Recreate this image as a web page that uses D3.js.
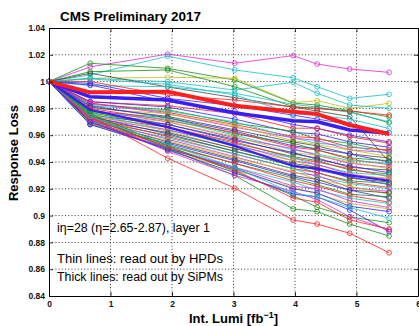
<!DOCTYPE html>
<html><head><meta charset="utf-8">
<script src="https://cdn.jsdelivr.net/npm/d3@7"></script>
<style>body{margin:0;background:#fff}svg{display:block;font-family:"Liberation Sans",Arial,Helvetica,sans-serif}</style>
</head><body><svg id="c" width="419" height="326"></svg>
<script>
// ---- data ----
const lumi = [0, 0.67, 1.93, 3.02, 3.97, 4.36, 4.89, 5.53];
const xTicks = [0, 1, 2, 3, 4, 5, 6];
const yTicks = [0.84, 0.86, 0.88, 0.9, 0.92, 0.94, 0.96, 0.98, 1.0, 1.02, 1.04];
const yTickLabels = ["0.84","0.86","0.88","0.9","0.92","0.94","0.96","0.98","1","1.02","1.04"];
const colorCodes = {b:"#3a1ff5", g:"#178f17", r:"#ff1f1f", c:"#12c2c8", m:"#e02ad6", y:"#bcbc12", k:"#444444"};
const hpdColor = [
 "m","c","g","y","c","g","k","c","r","b","b","r","c",
 "b","g","r","c","m","y","k","b","g","r","c","m","y","k","b","g","r","c","m","y","k","b","g","r","c","m","y","k","b","g","r","c","m","y","b",
 "r","g","g","m","b","r","c"
];
const hpdLoss = [
 [1,1.011,1.0205,1.0137,1.0194,1.0131,1.0094,1.0069],
 [1,1.005,1.019,1.0087,1.0029,0.9962,0.9875,0.9905],
 [1,1.0137,1.0099,1.0012,0.984,0.9825,0.9783,0.9738],
 [1,1.0025,1.0032,1.0025,0.9843,0.9858,0.98,0.9838],
 [1,1.0025,0.9999,0.9937,0.9995,0.9913,0.9825,0.98],
 [1,1.0074,1.0087,0.9962,0.9813,0.98,0.9776,0.9693],
 [1,1.0062,0.996,0.988,0.981,0.978,0.974,0.94],
 [1,0.997,0.9962,0.9913,0.983,0.981,0.977,0.97],
 [1,1.0,0.99,0.9863,0.981,0.98,0.978,0.975],
 [1,0.9987,0.9875,0.982,0.975,0.972,0.968,0.962],
 [1,0.9975,0.985,0.978,0.968,0.965,0.96,0.955],
 [1,0.985,0.982,0.976,0.9652,0.9652,0.9589,0.954],
 [1,1.002,0.998,0.99,0.976,0.975,0.972,0.965],
 [1,0.985,0.981,0.972,0.962,0.961,0.955,0.951],
 [1,0.983,0.979,0.969,0.963,0.957,0.954,0.948],
 [1,0.984,0.977,0.968,0.959,0.958,0.951,0.949],
 [1,0.982,0.978,0.970,0.958,0.954,0.952,0.946],
 [1,0.984,0.976,0.966,0.958,0.956,0.949,0.947],
 [1,0.980,0.976,0.967,0.956,0.953,0.949,0.944],
 [1,0.981,0.974,0.964,0.955,0.952,0.946,0.943],
 [1,0.982,0.973,0.963,0.952,0.950,0.946,0.940],
 [1,0.978,0.973,0.961,0.954,0.949,0.943,0.941],
 [1,0.980,0.971,0.962,0.951,0.949,0.942,0.938],
 [1,0.977,0.972,0.960,0.949,0.946,0.941,0.939],
 [1,0.979,0.970,0.958,0.950,0.945,0.939,0.936],
 [1,0.976,0.970,0.959,0.947,0.945,0.940,0.935],
 [1,0.978,0.968,0.957,0.946,0.943,0.936,0.934],
 [1,0.975,0.968,0.956,0.947,0.942,0.937,0.932],
 [1,0.977,0.966,0.954,0.944,0.941,0.934,0.931],
 [1,0.974,0.966,0.955,0.943,0.940,0.935,0.929],
 [1,0.976,0.964,0.952,0.943,0.938,0.932,0.930],
 [1,0.973,0.964,0.953,0.941,0.938,0.931,0.927],
 [1,0.975,0.963,0.950,0.941,0.936,0.930,0.928],
 [1,0.972,0.962,0.950,0.939,0.936,0.928,0.925],
 [1,0.974,0.961,0.948,0.938,0.934,0.929,0.923],
 [1,0.971,0.960,0.948,0.937,0.932,0.926,0.924],
 [1,0.973,0.959,0.946,0.935,0.932,0.925,0.921],
 [1,0.970,0.958,0.946,0.935,0.929,0.924,0.920],
 [1,0.972,0.957,0.944,0.932,0.930,0.921,0.918],
 [1,0.969,0.956,0.943,0.933,0.927,0.922,0.916],
 [1,0.971,0.955,0.942,0.930,0.927,0.919,0.917],
 [1,0.968,0.954,0.941,0.929,0.925,0.919,0.913],
 [1,0.970,0.953,0.939,0.928,0.923,0.916,0.914],
 [1,0.969,0.952,0.939,0.926,0.922,0.915,0.910],
 [1,0.968,0.951,0.936,0.925,0.919,0.913,0.909],
 [1,0.970,0.950,0.936,0.922,0.920,0.911,0.906],
 [1,0.969,0.949,0.934,0.921,0.916,0.909,0.905],
 [1,0.968,0.950,0.935,0.920,0.917,0.907,0.903],
 [1,0.974,0.9428,0.9204,0.8967,0.8937,0.8868,0.8723],
 [1,0.975,0.950,0.930,0.905,0.903,0.8937,0.8848],
 [1,0.976,0.952,0.933,0.915,0.9062,0.899,0.8947],
 [1,0.972,0.948,0.930,0.918,0.912,0.8992,0.8893],
 [1,0.970,0.949,0.932,0.916,0.914,0.9042,0.888],
 [1,0.973,0.951,0.934,0.913,0.910,0.8967,0.890],
 [1,0.974,0.953,0.936,0.9167,0.914,0.906,0.898]
];
const sipmRed = [1,0.992,0.9925,0.982,0.9775,0.9758,0.9676,0.9609];
const sipmBlue = [1,0.9887,0.9863,0.9766,0.9708,0.970,0.9639,0.9614];
const sipmBlue2 = [1,0.979,0.966,0.952,0.937,0.935,0.930,0.926];
const titleText = "CMS Preliminary 2017";
const notes = ["i\u03b7=28 (\u03b7=2.65-2.87), layer 1", "Thin lines: read out by HPDs", "Thick lines: read out by SiPMs"];

// ---- chart ----
const L = 49, R = 418, T = 28, B = 296;
const svg = d3.select("#c");
const x = d3.scaleLinear().domain([0, 6]).range([L, R]);
const y = d3.scaleLinear().domain([0.84, 1.04]).range([B, T]);

// grid
const grid = svg.append("g").attr("stroke", "#000").attr("stroke-width", 0.8).attr("stroke-dasharray", "1,2.2");
grid.selectAll(".gx").data(xTicks.slice(1, -1)).join("line")
  .attr("x1", d => x(d)).attr("x2", d => x(d)).attr("y1", T).attr("y2", B);
grid.selectAll(".gy").data(yTicks.slice(1, -1)).join("line")
  .attr("y1", d => y(d)).attr("y2", d => y(d)).attr("x1", L).attr("x2", R);

const line = d3.line().x((d, i) => x(lumi[i])).y(d => y(d));
const plot = svg.append("g");
hpdLoss.forEach((s, k) => {
  const col = colorCodes[hpdColor[k]];
  const g = plot.append("g");
  g.append("path").attr("d", line(s)).attr("fill", "none").attr("stroke", col).attr("stroke-width", 0.8);
  g.selectAll("circle").data(s).join("circle")
    .attr("cx", (d, i) => x(lumi[i])).attr("cy", d => y(d)).attr("r", 2.4)
    .attr("fill", "none").attr("stroke", col).attr("stroke-width", 0.8);
});
[[sipmBlue2, colorCodes.b, 2.2], [sipmBlue, colorCodes.b, 3.6], [sipmRed, colorCodes.r, 4]].forEach(([s, col, w]) => {
  plot.append("path").attr("d", line(s)).attr("fill", "none").attr("stroke", col)
    .attr("stroke-width", w).attr("stroke-linejoin", "round");
});

// axes
const ax = svg.append("g");
const fmt = d => yTickLabels[yTicks.indexOf(d)];
ax.append("g").attr("transform", `translate(${L},0)`)
  .call(d3.axisLeft(y).tickValues(yTicks).tickFormat(fmt).tickSizeInner(-4).tickSizeOuter(0).tickPadding(4));
ax.append("g").attr("transform", `translate(${R},0)`)
  .call(d3.axisRight(y).tickValues(yTicks).tickFormat("").tickSizeInner(-4).tickSizeOuter(0));
ax.append("g").attr("transform", `translate(0,${B})`)
  .call(d3.axisBottom(x).tickValues(xTicks).tickFormat(d3.format("d")).tickSizeInner(-4).tickSizeOuter(0).tickPadding(5));
ax.append("g").attr("transform", `translate(0,${T})`)
  .call(d3.axisTop(x).tickValues(xTicks).tickFormat("").tickSizeInner(-4).tickSizeOuter(0));
ax.selectAll(".domain").attr("stroke", "#000").attr("stroke-width", 1);
ax.selectAll(".tick line").attr("stroke", "#000").attr("stroke-width", 0.8);
ax.selectAll(".tick text").attr("font-size", 8.5).attr("font-weight", "bold").attr("fill", "#111")
  .attr("font-family", "Liberation Sans, Arial, sans-serif");

// texts
svg.append("text").attr("x", 60).attr("y", 21).attr("font-size", 13.5).attr("font-weight", "bold").text(titleText);
svg.append("text").attr("transform", `translate(18,${(T + B) / 2 - 9}) rotate(-90)`).attr("text-anchor", "middle")
  .attr("font-size", 13).attr("font-weight", "bold").text("Response Loss");
const xl = svg.append("text").attr("x", (L + R) / 2).attr("y", 323).attr("text-anchor", "middle")
  .attr("font-size", 13).attr("font-weight", "bold");
xl.append("tspan").text("Int. Lumi [fb");
xl.append("tspan").attr("dy", -5).attr("font-size", 9).text("\u22121");
xl.append("tspan").attr("dy", 5).text("]");
svg.append("text").attr("x", 57).attr("y", 232).attr("font-size", 12.5)
  .attr("textLength", 153).attr("lengthAdjust", "spacingAndGlyphs").text(notes[0]);
svg.append("text").attr("x", 57).attr("y", 263).attr("font-size", 12.5)
  .attr("textLength", 166).attr("lengthAdjust", "spacingAndGlyphs").text(notes[1]);
svg.append("text").attr("x", 57).attr("y", 281).attr("font-size", 12.5)
  .attr("textLength", 166).attr("lengthAdjust", "spacingAndGlyphs").text(notes[2]);
</script></body></html>
